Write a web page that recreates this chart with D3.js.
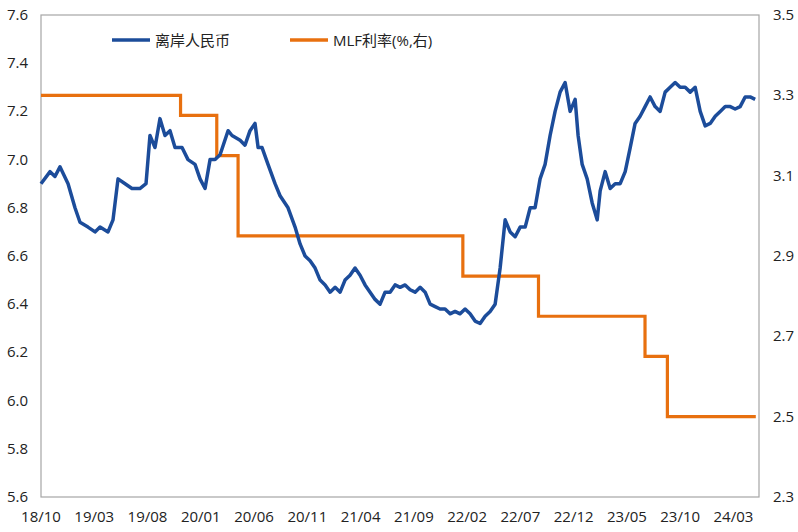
<!DOCTYPE html><html><head><meta charset="utf-8"><script src="https://cdn.jsdelivr.net/npm/d3@7"></script>
<style>body{margin:0;background:#fff}text{font-family:"Open Sans","Noto Sans CJK SC",sans-serif;font-size:15px;fill:#222}</style></head><body>
<svg id="c" width="798" height="532"></svg>
<script>
const xLabels=["18/10","19/03","19/08","20/01","20/06","20/11","21/04","21/09","22/02","22/07","22/12","23/05","23/10","24/03"];
const leftTicks=[5.6,5.8,6.0,6.2,6.4,6.6,6.8,7.0,7.2,7.4,7.6];
const rightTicks=[2.3,2.5,2.7,2.9,3.1,3.3,3.5];
const cnhMonth=[0,.85,1.31,1.78,2.54,3.19,3.66,4.41,5.07,5.54,6.29,6.76,7.23,7.89,8.54,9.28,9.86,10.23,10.7,11.17,11.64,12.11,12.58,13.24,13.8,14.46,14.93,15.4,15.87,16.34,16.81,17.56,17.93,18.69,19.15,19.62,20.09,20.38,20.75,21.31,21.97,22.44,23.19,23.85,24.32,24.79,25.26,25.73,26.2,26.67,27.14,27.61,28.08,28.54,29.01,29.48,29.95,30.42,30.89,31.36,31.83,32.3,32.77,33.24,33.71,34.18,34.65,35.12,35.59,36.06,36.53,37.0,37.46,37.93,38.4,38.87,39.34,39.81,40.28,40.75,41.22,41.69,42.16,42.63,43.1,43.57,44.04,44.51,44.98,45.45,45.92,46.38,46.85,47.32,47.79,48.26,48.73,49.2,49.67,50.14,50.42,50.8,51.27,51.74,52.21,52.49,52.96,53.43,53.9,54.37,54.84,55.31,55.77,56.24,56.71,57.18,57.65,58.12,58.59,59.06,59.53,60.0,60.47,60.94,61.41,61.88,62.35,62.82,63.29,63.76,64.23,64.7,65.16,65.63,66.1,66.57,67.04];
const cnhValue=[6.90,6.95,6.93,6.97,6.90,6.80,6.74,6.72,6.70,6.72,6.70,6.75,6.92,6.90,6.88,6.88,6.90,7.10,7.05,7.17,7.10,7.12,7.05,7.05,7.00,6.98,6.92,6.88,7.00,7.00,7.02,7.12,7.10,7.08,7.06,7.12,7.15,7.05,7.05,6.98,6.90,6.85,6.80,6.72,6.65,6.60,6.58,6.55,6.50,6.48,6.45,6.47,6.45,6.50,6.52,6.55,6.52,6.48,6.45,6.42,6.40,6.45,6.45,6.48,6.47,6.48,6.46,6.45,6.47,6.45,6.40,6.39,6.38,6.38,6.36,6.37,6.36,6.38,6.36,6.33,6.32,6.35,6.37,6.40,6.55,6.75,6.70,6.68,6.72,6.72,6.80,6.80,6.92,6.98,7.10,7.20,7.28,7.32,7.20,7.25,7.10,6.98,6.92,6.82,6.75,6.87,6.95,6.88,6.90,6.90,6.95,7.05,7.15,7.18,7.22,7.26,7.22,7.20,7.28,7.30,7.32,7.30,7.30,7.28,7.30,7.20,7.14,7.15,7.18,7.20,7.22,7.22,7.21,7.22,7.26,7.26,7.25];
const mlfMonth=[0,13.1,16.5,18.5,39.6,46.7,56.7,58.8,67.1];
const mlfValue=[3.30,3.25,3.15,2.95,2.85,2.75,2.65,2.50,2.50];
const L=41,R=759,T=15,B=497;
const svg=d3.select("#c");
const x=d3.scaleLinear().domain([0,67.4]).range([L,R]);
const yL=d3.scaleLinear().domain([5.6,7.6]).range([B,T]);
const yR=d3.scaleLinear().domain([2.3,3.5]).range([B,T]);
svg.append("rect").attr("x",L).attr("y",T).attr("width",R-L).attr("height",B-T).attr("fill","none").attr("stroke","#a6a6a6").attr("stroke-width",1.2);
svg.append("g").selectAll("text").data(leftTicks).join("text").attr("x",28).attr("y",d=>yL(d)+5).attr("text-anchor","end").text(d=>d.toFixed(1));
svg.append("g").selectAll("text").data(rightTicks).join("text").attr("x",773).attr("y",d=>yR(d)+5).text(d=>d.toFixed(1));
svg.append("g").selectAll("text").data(xLabels).join("text").attr("x",(d,i)=>x(i*5)).attr("y",522).attr("text-anchor","middle").text(d=>d);
const mlf=mlfMonth.map((m,i)=>[m,mlfValue[i]]);
svg.append("path").attr("d",d3.line().curve(d3.curveStepAfter).x(d=>x(d[0])).y(d=>yR(d[1]))(mlf)).attr("fill","none").attr("stroke","#E8700F").attr("stroke-width",3.2);
const cnh=cnhMonth.map((m,i)=>[m,cnhValue[i]]);
svg.append("path").attr("d",d3.line().x(d=>x(d[0])).y(d=>yL(d[1]))(cnh)).attr("fill","none").attr("stroke","#1C4C9A").attr("stroke-width",3.5).attr("stroke-linejoin","round");
const lg=[["离岸人民币","#1C4C9A",112],["MLF利率(%,右)","#E8700F",290]];
lg.forEach(([t,c,px])=>{svg.append("line").attr("x1",px).attr("x2",px+38).attr("y1",40).attr("y2",40).attr("stroke",c).attr("stroke-width",3.5);
svg.append("text").attr("x",px+43).attr("y",46).text(t);});
</script></body></html>
